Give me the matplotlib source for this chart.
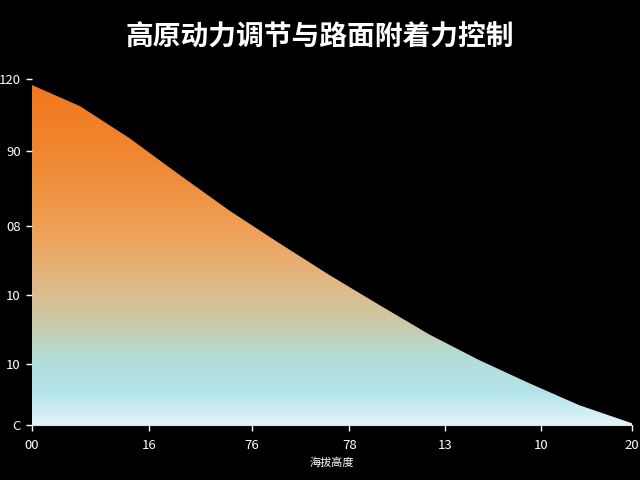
import numpy as np
import matplotlib
matplotlib.use("Agg")
import matplotlib.pyplot as plt
from matplotlib.colors import LinearSegmentedColormap

plt.rcParams['font.family'] = ['Noto Sans CJK SC', 'DejaVu Sans']

# data
x_vals = [0.0, 0.48, 0.98, 1.48, 1.98, 2.48, 2.98, 3.48, 3.98, 4.48, 4.98, 5.48, 6.01]
y_vals = [117.9, 110.6, 99.4, 86.7, 74.3, 63.0, 52.0, 41.6, 31.4, 22.5, 14.5, 6.9, 0.6]
x_tick_pos = [0.0, 1.17, 2.2, 3.18, 4.14, 5.1, 6.01]
x_tick_labels = ["00", "16", "76", "78", "13", "10", "20"]
y_tick_pos = [0, 21, 45, 69, 95, 120]
y_tick_labels = ["C", "10", "10", "08", "90", "120"]
title = "高原动力调节与路面附着力控制"
x_label = "海拔高度"

fig = plt.figure(figsize=(6.4, 4.8), dpi=100, facecolor="black")
ax = fig.add_axes([32/640, 55/480, 600/640, 346/480], facecolor="black")

cmap = LinearSegmentedColormap.from_list("grad", [
    (0.0, "#E2F4F9"),
    (0.10, "#B2E2EA"),
    (0.20, "#B3DCD6"),
    (0.30, "#CCC9A6"),
    (0.40, "#DFBA88"),
    (0.55, "#EFA25A"),
    (0.75, "#F08A35"),
    (1.0, "#F2761C"),
])
grad = np.linspace(0, 1, 256).reshape(-1, 1)
im = ax.imshow(grad, cmap=cmap, origin="lower", aspect="auto",
               extent=[0, 6.01, 0, 120], zorder=1)
poly = ax.fill_between(x_vals, y_vals, 0, facecolor="none", edgecolor="none")
path = poly.get_paths()[0]
im.set_clip_path(path, transform=ax.transData)

ax.set_xlim(0, 6.01)
ax.set_ylim(0, 120)
for s in ["top", "right", "left"]:
    ax.spines[s].set_visible(False)
ax.spines["bottom"].set_color("#dddddd")
ax.spines["bottom"].set_linewidth(0.8)

ax.set_xticks(x_tick_pos)
ax.set_xticklabels(x_tick_labels)
ax.set_yticks(y_tick_pos)
ax.set_yticklabels(y_tick_labels)
ax.tick_params(axis="both", colors="white", labelcolor="white", labelsize=9.5,
               length=4, width=1, direction="out")
ax.tick_params(axis="y", pad=4)
ax.tick_params(axis="x", pad=6)
ax.set_xlabel(x_label, color="white", fontsize=8, labelpad=4)

fig.text(0.5, 1 - 37/480, title, color="white", fontsize=20, fontweight="bold",
         ha="center", va="center")

fig.savefig("out.png", dpi=100, facecolor="black")
